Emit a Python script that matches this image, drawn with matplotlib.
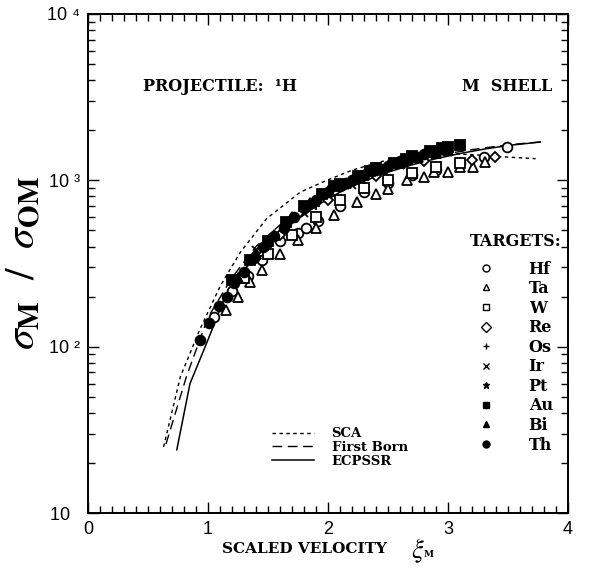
import numpy as np
import matplotlib
matplotlib.use("Agg")
import matplotlib.pyplot as plt
from matplotlib.lines import Line2D
from matplotlib.ticker import FixedLocator, FixedFormatter, LogLocator, NullFormatter, MultipleLocator

plt.rcParams['mathtext.fontset'] = 'stix'

# theory curves: scaled velocity vs sigma_M / sigma_0M
sca_x = [0.63, 0.77, 0.93, 1.10, 1.27, 1.49, 1.77, 1.99, 2.20, 2.43, 2.70, 3.00, 3.25, 3.49, 3.73]
sca_y = [25, 66, 126, 230, 370, 590, 850, 1000, 1150, 1290, 1400, 1450, 1420, 1380, 1350]

born_x = [0.65, 0.82, 1.00, 1.20, 1.40, 1.60, 1.80, 2.00, 2.20, 2.40, 2.60, 2.80, 3.00, 3.20, 3.40, 3.60, 3.77]
born_y = [26, 66, 150, 260, 400, 540, 700, 850, 990, 1120, 1240, 1350, 1450, 1530, 1600, 1660, 1700]

ecp_x = [0.74, 0.85, 1.00, 1.13, 1.30, 1.50, 1.70, 1.90, 2.10, 2.30, 2.50, 2.70, 2.90, 3.10, 3.30, 3.50, 3.77]
ecp_y = [24, 60, 110, 190, 290, 410, 550, 700, 850, 990, 1120, 1240, 1350, 1450, 1540, 1620, 1700]

# measured data per target
hf_x = [1.05, 1.20, 1.33, 1.45, 1.60, 1.75, 1.82, 1.92, 2.10, 2.30, 2.50, 2.70, 2.90, 3.10, 3.30, 3.49]
hf_y = [150, 215, 265, 330, 430, 480, 520, 570, 700, 850, 960, 1080, 1150, 1280, 1380, 1590]
ta_x = [1.15, 1.25, 1.35, 1.45, 1.60, 1.75, 1.90, 2.05, 2.24, 2.40, 2.50, 2.66, 2.80, 2.88, 3.00, 3.10, 3.21, 3.31]
ta_y = [165, 200, 245, 290, 360, 440, 520, 620, 740, 830, 890, 1000, 1050, 1120, 1120, 1200, 1200, 1290]
w_x = [1.30, 1.50, 1.70, 1.90, 2.10, 2.30, 2.50, 2.70, 2.90, 3.10]
w_y = [260, 360, 470, 600, 760, 900, 1000, 1100, 1200, 1270]
re_x = [1.60, 2.00, 2.40, 2.80, 3.20, 3.39]
re_y = [470, 760, 1060, 1300, 1330, 1380]
os_x = [1.50, 1.90, 2.30, 2.70, 3.00]
os_y = [400, 700, 1000, 1300, 1500]
ir_x = [1.40, 1.80, 2.20, 2.60, 3.00]
ir_y = [380, 640, 940, 1230, 1480]
pt_x = [1.45, 1.85, 2.25, 2.65, 2.95]
pt_y = [400, 700, 1000, 1270, 1520]
au_x = [1.20, 1.35, 1.50, 1.65, 1.80, 1.95, 2.05, 2.10, 2.25, 2.35, 2.40, 2.55, 2.65, 2.70,
        2.85, 2.95, 3.00, 3.10]
au_y = [250, 330, 430, 560, 700, 830, 920, 950, 1060, 1140, 1180, 1280, 1350, 1400,
        1500, 1560, 1580, 1620]
bi_x = [1.25, 1.40, 1.55, 1.70, 1.85, 2.00, 2.15, 2.30, 2.45, 2.60, 2.75, 2.90, 3.00]
bi_y = [260, 360, 470, 600, 730, 860, 960, 1070, 1170, 1270, 1380, 1470, 1520]
th_x = [0.93, 1.01, 1.09, 1.16, 1.22, 1.30, 1.38, 1.46, 1.55, 1.63, 1.72, 1.80, 1.90, 2.00,
        2.10, 2.20, 2.30, 2.40, 2.50, 2.60, 2.70, 2.80, 2.90]
th_y = [110, 138, 175, 200, 240, 280, 340, 400, 460, 520, 600, 680, 760, 850,
        930, 1000, 1080, 1150, 1220, 1300, 1380, 1440, 1500]

targets = ["Hf", "Ta", "W", "Re", "Os", "Ir", "Pt", "Au", "Bi", "Th"]
series = [(hf_x, hf_y), (ta_x, ta_y), (w_x, w_y), (re_x, re_y), (os_x, os_y),
          (ir_x, ir_y), (pt_x, pt_y), (au_x, au_y), (bi_x, bi_y), (th_x, th_y)]
markers = ['o', '^', 's', 'D', '+', 'x', '*', 's', '^', 'o']
filled = [False, False, False, False, True, True, True, True, True, True]

ytick_vals = [10, 100, 1000, 10000]
ytick_text = ['10  ', '10 ²', '10 ³', '10 ⁴']

serif = 'DejaVu Serif'
sans = ['Liberation Sans', 'DejaVu Sans']
fig = plt.figure(figsize=(6.04, 5.73), dpi=100)
ax = fig.add_axes([88 / 604, 1 - 513 / 573, 480 / 604, 499 / 573])
ax.set_yscale('log')
ax.set_xlim(0, 4)
ax.set_ylim(10, 1e4)

ax.plot(sca_x, sca_y, color='black', lw=1.0, ls=(0, (2.5, 2.5)))
ax.plot(born_x, born_y, color='black', lw=1.0, ls=(0, (7, 4)))
ax.plot(ecp_x, ecp_y, color='black', lw=1.1, ls='-')

for (xs, ys), m, f in zip(series, markers, filled):
    size = 7 if m in ('o', 's', '^') else 6
    if m == 'D':
        size = 5
    face = 'black' if f else 'white'
    ax.plot(xs, ys, ls='none', marker=m, ms=size, mfc=face, mec='black', mew=1.3)

# axes styling
for s in ax.spines.values():
    s.set_linewidth(1.4)
ax.xaxis.set_major_locator(MultipleLocator(1))
ax.xaxis.set_minor_locator(MultipleLocator(0.1))
ax.yaxis.set_major_locator(FixedLocator(ytick_vals))
ax.yaxis.set_major_formatter(FixedFormatter(ytick_text))
ax.yaxis.set_minor_locator(LogLocator(base=10, subs=np.arange(2, 10)))
ax.yaxis.set_minor_formatter(NullFormatter())
ax.tick_params(which='both', direction='in', top=True, right=True, width=1.0)
ax.tick_params(which='major', length=8, labelsize=13, pad=6)
ax.tick_params(which='minor', length=5)
for lab in ax.get_xticklabels() + ax.get_yticklabels():
    lab.set_family(sans)

# x label: text plus a large xi with a small subscript
ax.text(0.28, -0.072, 'SCALED VELOCITY', transform=ax.transAxes, family=serif,
        weight='bold', fontsize=11, va='center')
ax.text(0.672, -0.075, r'$\xi$', transform=ax.transAxes, fontsize=19, va='center')
ax.text(0.7, -0.084, 'M', transform=ax.transAxes, family=serif, weight='bold',
        fontsize=6.5, va='center')
ax.set_ylabel(r'$\sigma_{\mathbf{M}}\ \ /\ \ \sigma_{\mathbf{OM}}$', fontsize=30, labelpad=2)

ax.text(0.115, 0.845, 'PROJECTILE:  ¹H', transform=ax.transAxes, family=serif,
        weight='bold', fontsize=11.5)
ax.text(0.78, 0.845, 'M  SHELL', transform=ax.transAxes, family=serif,
        weight='bold', fontsize=11.5)
ax.text(0.795, 0.535, 'TARGETS:', transform=ax.transAxes, family=serif,
        weight='bold', fontsize=11.5)

handles = []
for m, f in zip(markers, filled):
    face = 'black' if f else 'white'
    handles.append(Line2D([], [], ls='none', marker=m, ms=5, mfc=face, mec='black', mew=1.0))
leg = ax.legend(handles, targets, loc='upper left', bbox_to_anchor=(0.795, 0.522),
                frameon=False, handlelength=1.0, handletextpad=2.2, labelspacing=0.16,
                borderpad=0, prop={'family': serif, 'weight': 'bold', 'size': 11.5})
ax.add_artist(leg)

line_handles = [Line2D([], [], color='black', lw=1.0, ls=(0, (2.5, 2.5))),
                Line2D([], [], color='black', lw=1.0, ls=(0, (7, 4))),
                Line2D([], [], color='black', lw=1.1)]
ax.legend(line_handles, ['SCA', 'First Born', 'ECPSSR'], loc='upper left',
          bbox_to_anchor=(0.37, 0.185), frameon=False, handlelength=3.2,
          handletextpad=1.3, labelspacing=0.05, borderpad=0,
          prop={'family': serif, 'weight': 'bold', 'size': 9.5})

fig.savefig('out.png', dpi=100)
